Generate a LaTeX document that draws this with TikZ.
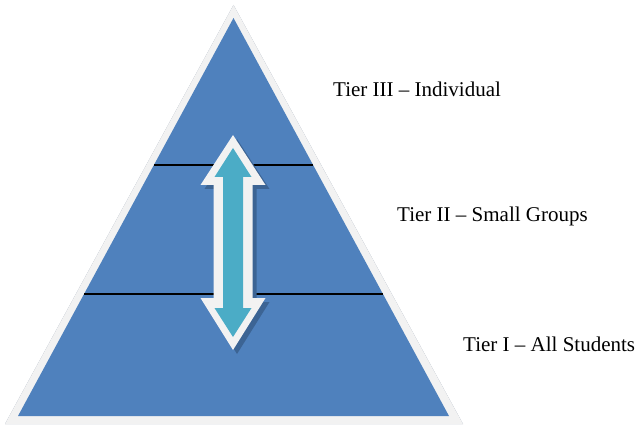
\documentclass[tikz,border=0pt]{standalone}
\usepackage{fontspec}
\setmainfont{Liberation Serif}
\usepackage{tikz}
\usetikzlibrary{calc}

\begin{document}
\begin{tikzpicture}[x=1pt, y=-1pt,
            rim/.style={fill={rgb,255:red,242;green,242;blue,242}},
            tierfill/.style={fill={rgb,255:red,79;green,129;blue,189}},
            baseshadow/.style={fill={rgb,255:red,140;green,153;blue,172}},
            tierline/.style={draw=black, line width=1.5pt},
            arrowshadow/.style={fill={rgb,255:red,60;green,100;blue,148}},
            arrowfill/.style={fill={rgb,255:red,75;green,172;blue,198}},
            tierlabel/.style={anchor=base west, inner sep=0pt,
                    font=\fontsize{21}{25}\selectfont}
        ]

        \useasboundingbox (0,0) rectangle (636,430);

        % ---------------------------------------------------------------
        % PYRAMID
        % ---------------------------------------------------------------
        \coordinate (top) at (233.5,5);
        \coordinate (left) at (5,424);
        \coordinate (right) at (463,424);
        \coordinate (apex) at (233.5,18);
        \coordinate (bl) at (18,416);
        \coordinate (br) at (449,416);

        % Shadow under the base
        \fill[baseshadow, shift={(1,6)}] (top) -- (left) -- (right) -- cycle;
        % Light rim
        \fill[rim] (top) -- (left) -- (right) -- cycle;
        % Blue body
        \fill[tierfill] (apex) -- (bl) -- (br) -- cycle;

        % Tier borders
        \draw[tierline] ($(apex)!0.369!(bl)$) -- ($(apex)!0.369!(br)$);
        \draw[tierline] ($(apex)!0.693!(bl)$) -- ($(apex)!0.693!(br)$);

        % ---------------------------------------------------------------
        % DOUBLE ARROW
        % ---------------------------------------------------------------
        \fill[arrowshadow, shift={(4,4)}]
            (233,135) -- (265.5,185) -- (252.5,185) -- (252.5,298) -- (265.5,298)
            -- (233,350) -- (200.5,298) -- (213.5,298) -- (213.5,185) -- (200.5,185) -- cycle;
        \fill[rim]
            (233,135) -- (265.5,185) -- (252.5,185) -- (252.5,298) -- (265.5,298)
            -- (233,350) -- (200.5,298) -- (213.5,298) -- (213.5,185) -- (200.5,185) -- cycle;
        \fill[arrowfill]
            (233,148) -- (251.5,177) -- (243,177) -- (243,308) -- (251.5,308)
            -- (233,337) -- (214.5,308) -- (223,308) -- (223,177) -- (214.5,177) -- cycle;

        % ---------------------------------------------------------------
        % LABELS
        % ---------------------------------------------------------------
        \node[tierlabel] (tier3) at (333,97) {Tier III -- Individual};
        \node[tierlabel] (tier2) at (397,221) {Tier II -- Small Groups};
        \node[tierlabel] (tier1) at (463,351) {Tier I -- All Students};

    \end{tikzpicture}
\end{document}
